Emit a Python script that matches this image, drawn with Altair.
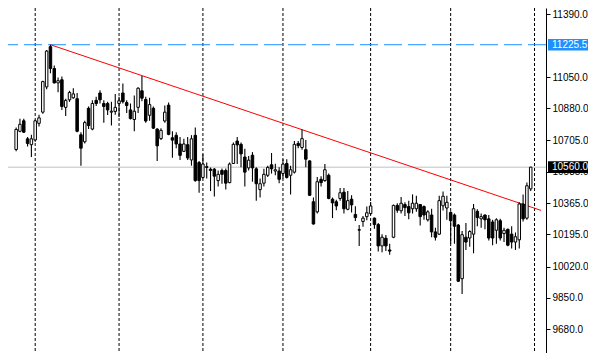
import altair as alt
import pandas as pd

# ---- candle data ----
opens = [10656,10755,10812,10714,10682,10708,10798,10859,10996,11215,
         11096,11018,11035,10885,10926,10937,10932,10736,10698,10880,
         10767,10923,10963,10906,10906,10859,10863,10906,10963,10911,
         10871,10819,10885,10975,10928,10842,10880,10767,10715,10811,
         10897,10720,10733,10686,10646,10682,10599,10733,10585,10504,
         10558,10549,10549,10487,10542,10542,10476,10580,10702,10684,
         10615,10556,10625,10551,10438,10473,10516,10573,10539,10539,
         10525,10580,10516,10533,10689,10667,10655,10594,10372,10317,
         10494,10487,10516,10386,10372,10390,10424,10331,10386,10303,
         10220,10265,10291,10308,10283,10248,10132,10174,10110,10179,
         10352,10323,10357,10346,10334,10334,10357,10346,10274,10300,
         10208,10196,10350,10338,10314,10300,10245,9954,10179,10175,
         10196,10320,10279,10300,10279,10262,10217,10269,10199,10222,
         10196,10153,10165,10360,10283,10442]
highs = [10776,10823,10823,10724,10736,10817,10845,11030,11197,11225.5,
         11113,11047,11053,10932,10975,10989,10963,10750,10812,10890,
         10923,10942,10978,10923,10916,10916,10958,10942,11015,10923,
         10906,10949,10994,11056,10942,10937,10890,10772,10771,10895,
         10911,10755,10750,10724,10714,10724,10734,10776,10594,10630,
         10585,10558,10556,10542,10553,10553,10585,10694,10724,10694,
         10660,10620,10642,10559,10499,10551,10568,10637,10579,10559,
         10603,10603,10568,10702,10702,10764,10707,10598,10395,10507,
         10511,10577,10525,10395,10383,10447,10447,10430,10407,10348,
         10246,10295,10346,10371,10286,10257,10196,10191,10144,10357,
         10364,10398,10369,10378,10412,10404,10360,10352,10326,10334,
         10231,10404,10428,10404,10320,10308,10251,10213,10257,10217,
         10360,10331,10308,10303,10300,10274,10283,10279,10231,10227,
         10239,10205,10369,10412,10476,10562]
lows = [10646,10750,10745,10672,10615,10698,10781,10850,10984,11070,
        11015,10967,10871,10838,10915,10932,10750,10568,10689,10767,
        10760,10892,10906,10802,10843,10786,10845,10833,10906,10854,
        10819,10755,10854,10918,10802,10812,10767,10594,10708,10802,
        10734,10611,10663,10599,10642,10599,10568,10481,10421,10499,
        10499,10430,10400,10455,10470,10438,10473,10577,10577,10559,
        10455,10542,10481,10378,10395,10455,10507,10525,10516,10473,
        10499,10499,10412,10525,10663,10655,10559,10404,10248,10308,
        10455,10481,10386,10283,10326,10378,10308,10326,10314,10268,
        10132,10236,10271,10300,10225,10101,10097,10104,10084,10174,
        10312,10308,10295,10277,10308,10317,10243,10274,10265,10179,
        10162,10191,10324,10274,10144,10144,9936,9871,10110,10127,
        10092,10239,10231,10222,10162,10136,10144,10162,10153,10130,
        10118,10110,10118,10265,10274,10430]
closes = [10765,10793,10750,10689,10714,10812,10828,11025,11191,11096,
          11018,11030,10890,10923,10966,10958,10755,10663,10802,10786,
          10906,10906,10926,10890,10871,10864,10885,10921,10916,10895,
          10824,10864,10989,10935,10811,10900,10772,10676,10760,10859,
          10738,10707,10686,10624,10686,10610,10714,10487,10487,10577,
          10563,10542,10511,10521,10521,10473,10577,10684,10681,10632,
          10533,10598,10556,10470,10470,10521,10559,10551,10546,10494,
          10577,10504,10546,10684,10677,10715,10603,10407,10251,10481,
          10476,10546,10390,10366,10349,10421,10334,10378,10355,10286,
          10218,10283,10312,10349,10248,10132,10179,10132,10104,10352,
          10326,10364,10340,10312,10364,10364,10291,10300,10317,10208,
          10179,10378,10402,10369,10269,10239,9940,10193,10153,10210,
          10334,10286,10291,10274,10175,10175,10274,10175,10217,10136,
          10153,10182,10360,10279,10459,10560]

# vertical separators (bar index) and price levels
grid_bars = [5, 27, 49, 70, 93, 114, 136]
axis_values = [11390, 11050, 10880, 10705, 10535, 10365, 10195, 10020, 9850, 9680]
bid_price = [10560.0]
level_price = [11225.5]
trend_bars = [9, 137.7]
trend_prices = [11225.5, 10325]

W, H = 538, 345
X_DOM = [-0.825, 137.7]
Y_DOM = [9550, 11425]
FONT = "Liberation Sans"

n = len(opens)
df = pd.DataFrame({
    "i": list(range(n)), "o": opens, "h": highs, "l": lows, "c": closes,
})
df["dir"] = ["up" if c >= o else "down" for o, c in zip(opens, closes)]

xs = alt.Scale(domain=X_DOM, nice=False, zero=False)
ys = alt.Scale(domain=Y_DOM, nice=False, zero=False)
yaxis = alt.Axis(values=axis_values, format=".1f", title=None, orient="right",
                 grid=False, domainColor="black", domainWidth=1, tickColor="black",
                 tickSize=4, labelPadding=2, labelFont=FONT, labelFontSize=10,
                 labelColor="black", labelOverlap=False, labelFlush=False)

grid = alt.Chart(pd.DataFrame({"g": grid_bars})).mark_rule(
    color="black", strokeDash=[3, 2], strokeWidth=1
).encode(x=alt.X("g:Q", scale=xs, axis=None))

bid = alt.Chart(pd.DataFrame({"p": bid_price})).mark_rule(
    color="#C0C0C0", strokeWidth=1
).encode(y=alt.Y("p:Q", scale=ys, axis=yaxis))

level = alt.Chart(pd.DataFrame({"p": level_price})).mark_rule(
    color="#1E90FF", strokeDash=[18, 6], strokeWidth=1
).encode(y=alt.Y("p:Q", scale=ys, axis=yaxis))

trend = alt.Chart(pd.DataFrame({"t": trend_bars, "p": trend_prices})).mark_line(
    color="#FF0000", strokeWidth=1
).encode(x=alt.X("t:Q", scale=xs, axis=None), y=alt.Y("p:Q", scale=ys, axis=yaxis))

wicks = alt.Chart(df).mark_rule(color="black", strokeWidth=1.1).encode(
    x=alt.X("i:Q", scale=xs, axis=None),
    y=alt.Y("l:Q", scale=ys, axis=yaxis),
    y2="h:Q",
)

bodies = alt.Chart(df).mark_bar(size=2.5, stroke="black", strokeWidth=1).encode(
    x=alt.X("i:Q", scale=xs, axis=None),
    y=alt.Y("o:Q", scale=ys, axis=yaxis),
    y2="c:Q",
    fill=alt.Fill("dir:N", scale=alt.Scale(domain=["up", "down"], range=["white", "black"]), legend=None),
)

tags = pd.DataFrame({
    "p": level_price + bid_price,
    "kind": ["level", "bid"],
    "txt": ["11225.5", "10560.0"],
})
box_path = "M-1,-0.29L1,-0.29L1,0.29L-1,0.29Z"
boxes = alt.Chart(tags).mark_point(shape=box_path, size=1600, filled=True, opacity=1, strokeWidth=0).encode(
    x=alt.value(W + 22),
    y=alt.Y("p:Q", scale=ys, axis=yaxis),
    fill=alt.Fill("kind:N", scale=alt.Scale(domain=["level", "bid"], range=["#1E90FF", "black"]), legend=None),
)
box_text = alt.Chart(tags).mark_text(align="left", baseline="middle", color="white",
                                     font=FONT, fontSize=10).encode(
    x=alt.value(W + 6),
    y=alt.Y("p:Q", scale=ys, axis=yaxis),
    text="txt:N",
)

chart = alt.layer(grid, bid, level, trend, wicks, bodies, boxes, box_text).resolve_scale(
    fill="independent"
).properties(
    width=W, height=H,
    autosize=alt.AutoSizeParams(type="none"),
    padding={"left": 0, "top": 0, "right": 42, "bottom": 0},
    background="white",
).configure_view(stroke=None)

chart.save("out.html", embed_options={"renderer": "svg", "actions": False})
